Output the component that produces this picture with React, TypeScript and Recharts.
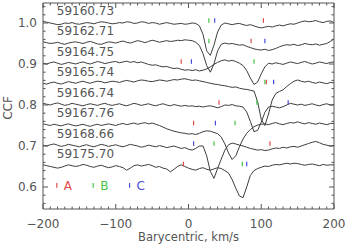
import { ComposedChart, Line, Scatter, XAxis, YAxis } from "recharts"

// velocity grid, km/s
const VELOCITY = [
  -200, -195, -190, -185, -180, -175, -170, -165, -160, -155,
  -150, -145, -140, -135, -130, -125, -120, -115, -110, -105,
  -100, -95, -90, -85, -80, -75, -70, -65, -60, -55,
  -50, -45, -40, -35, -30, -25, -20, -15, -10, -5,
  0, 5, 10, 15, 20, 25, 30, 35, 40, 45,
  50, 55, 60, 65, 70, 75, 80, 85, 90, 95,
  100, 105, 110, 115, 120, 125, 130, 135, 140, 145,
  150, 155, 160, 165, 170, 175, 180, 185, 190, 195,
  200,
]

const DATES = ["59160.73", "59162.71", "59164.75", "59165.74", "59166.74", "59167.76", "59168.66", "59175.70"]
const BASELINES = [1.0, 0.95, 0.9, 0.85, 0.8, 0.75, 0.7, 0.65]

const CCF_59160 = [
  1.004, 1.002, 1.0, 0.998, 0.996, 0.997, 1.0, 0.999, 1.001, 0.998,
  0.997, 0.999, 1.001, 1.0, 0.998, 1.001, 1.003, 1.002, 1.0, 0.998,
  0.999, 1.001, 1.0, 1.003, 1.002, 0.999, 1.0, 1.003, 1.002, 0.999,
  1.001, 1.0, 0.997, 0.999, 1.001, 0.999, 0.997, 0.998, 0.999, 0.997,
  0.998, 1.0, 0.999, 0.993, 0.972, 0.932, 0.921, 0.946, 0.978, 0.995,
  1.0, 0.998, 0.996, 0.998, 0.999, 0.996, 0.994, 0.996, 0.993, 0.99,
  0.988, 0.99, 0.992, 0.99, 0.993, 0.995, 0.993, 0.996, 0.998, 0.997,
  1.0, 1.003, 1.005, 1.003, 1.004, 1.006, 1.003, 1.001, 1.004, 1.005,
  1.001,
]
const CCF_59162 = [
  0.954, 0.952, 0.95, 0.951, 0.953, 0.95, 0.948, 0.951, 0.953, 0.954,
  0.952, 0.95, 0.953, 0.955, 0.952, 0.949, 0.948, 0.951, 0.954, 0.953,
  0.951, 0.954, 0.956, 0.953, 0.951, 0.954, 0.957, 0.955, 0.952, 0.955,
  0.958, 0.956, 0.953, 0.955, 0.957, 0.955, 0.956, 0.958, 0.957, 0.959,
  0.958, 0.957, 0.953, 0.945, 0.925, 0.896, 0.88, 0.9, 0.932, 0.948,
  0.951, 0.949, 0.95, 0.948, 0.946, 0.947, 0.943, 0.94, 0.937, 0.935,
  0.934, 0.936, 0.933, 0.935, 0.938, 0.942, 0.945, 0.947, 0.946, 0.948,
  0.945, 0.947, 0.95, 0.948, 0.947, 0.949, 0.946, 0.948, 0.95, 0.955,
  0.961,
]
const CCF_59164 = [
  0.902, 0.9, 0.903, 0.905, 0.902, 0.899, 0.901, 0.904, 0.902, 0.9,
  0.903, 0.905, 0.902, 0.9, 0.903, 0.906, 0.904, 0.901, 0.903, 0.905,
  0.906, 0.903, 0.905, 0.907, 0.904, 0.906, 0.903, 0.905, 0.902, 0.899,
  0.897, 0.898, 0.895, 0.893, 0.894, 0.891, 0.889, 0.89, 0.887, 0.885,
  0.886, 0.884, 0.886, 0.883, 0.885, 0.888, 0.893, 0.899, 0.904, 0.908,
  0.91, 0.907, 0.909, 0.906, 0.902, 0.896, 0.884, 0.866, 0.85, 0.856,
  0.876, 0.893, 0.902, 0.9, 0.903, 0.901, 0.899, 0.902, 0.905, 0.903,
  0.901, 0.904, 0.906, 0.903, 0.9, 0.902, 0.905, 0.903, 0.901, 0.904,
  0.905,
]
const CCF_59165 = [
  0.853, 0.851, 0.854, 0.856, 0.853, 0.851, 0.854, 0.857, 0.855, 0.853,
  0.856, 0.858, 0.855, 0.853, 0.856, 0.858, 0.857, 0.854, 0.856, 0.858,
  0.857, 0.855, 0.858, 0.86, 0.858, 0.856, 0.859, 0.861, 0.86, 0.858,
  0.857, 0.859, 0.861, 0.86, 0.858, 0.86, 0.862, 0.861, 0.863, 0.864,
  0.862, 0.86, 0.861, 0.859, 0.857, 0.855, 0.853, 0.851, 0.85, 0.848,
  0.847, 0.845, 0.843, 0.844, 0.841, 0.839, 0.838, 0.836, 0.834, 0.808,
  0.765, 0.75, 0.778, 0.812, 0.828, 0.833, 0.837, 0.845, 0.852, 0.858,
  0.861, 0.858, 0.856, 0.858, 0.855, 0.853, 0.856, 0.854, 0.852, 0.855,
  0.854,
]
const CCF_59166 = [
  0.804, 0.802, 0.8, 0.803, 0.805, 0.802, 0.799, 0.801, 0.804, 0.802,
  0.8, 0.798, 0.801, 0.803, 0.801, 0.799, 0.802, 0.804, 0.801, 0.799,
  0.801, 0.803, 0.8, 0.798, 0.801, 0.804, 0.802, 0.799, 0.801, 0.803,
  0.8, 0.798, 0.801, 0.803, 0.8, 0.798, 0.801, 0.799, 0.797, 0.799,
  0.797, 0.798, 0.796, 0.797, 0.795, 0.797, 0.798, 0.796, 0.793, 0.796,
  0.8, 0.799, 0.801, 0.798, 0.797, 0.795, 0.783, 0.76, 0.735, 0.738,
  0.758, 0.782, 0.795, 0.797, 0.795, 0.793, 0.796, 0.8, 0.804, 0.802,
  0.8, 0.802, 0.799, 0.801, 0.803, 0.8, 0.798, 0.801, 0.803, 0.8,
  0.801,
]
const CCF_59167 = [
  0.754, 0.752, 0.75, 0.753, 0.751, 0.749, 0.752, 0.754, 0.751, 0.749,
  0.751, 0.753, 0.75, 0.748, 0.751, 0.753, 0.75, 0.752, 0.754, 0.752,
  0.75, 0.753, 0.755, 0.752, 0.754, 0.756, 0.753, 0.755, 0.757, 0.754,
  0.756, 0.753, 0.75, 0.746, 0.742, 0.739, 0.736, 0.734, 0.732, 0.731,
  0.729, 0.73, 0.728, 0.731, 0.735, 0.737, 0.736, 0.733, 0.73, 0.722,
  0.705, 0.683, 0.667, 0.676, 0.698, 0.717, 0.731, 0.74, 0.747, 0.751,
  0.753, 0.754, 0.752, 0.755, 0.757, 0.754, 0.752, 0.755, 0.757, 0.756,
  0.759, 0.756, 0.754, 0.757, 0.755, 0.753, 0.756, 0.754, 0.752, 0.755,
  0.755,
]
const CCF_59168 = [
  0.702, 0.7, 0.703, 0.705, 0.702, 0.699, 0.701, 0.704, 0.702, 0.7,
  0.698, 0.701, 0.703, 0.7, 0.698, 0.701, 0.704, 0.702, 0.699, 0.701,
  0.703, 0.7, 0.698, 0.701, 0.704, 0.702, 0.7, 0.697, 0.699, 0.702,
  0.7, 0.698, 0.701, 0.699, 0.696, 0.698, 0.7, 0.697, 0.694, 0.696,
  0.692, 0.69, 0.694, 0.7, 0.7, 0.676, 0.638, 0.621, 0.645, 0.668,
  0.69, 0.703, 0.707, 0.705, 0.702, 0.7, 0.697, 0.694, 0.692, 0.69,
  0.691, 0.689, 0.69, 0.693, 0.695, 0.694, 0.697, 0.695, 0.698, 0.699,
  0.697, 0.7, 0.703, 0.706, 0.709, 0.711, 0.708, 0.704, 0.702, 0.7,
  0.701,
]
const CCF_59175 = [
  0.654, 0.652, 0.65, 0.648, 0.646, 0.648, 0.651, 0.654, 0.652, 0.65,
  0.652, 0.655, 0.653, 0.65, 0.648, 0.651, 0.653, 0.65, 0.647, 0.649,
  0.652, 0.65, 0.647, 0.641, 0.646, 0.652, 0.654, 0.651, 0.653, 0.655,
  0.652, 0.648, 0.65, 0.646, 0.644, 0.637, 0.643, 0.65, 0.654, 0.65,
  0.646, 0.643, 0.641, 0.645, 0.647, 0.643, 0.641, 0.644, 0.647, 0.645,
  0.64, 0.634, 0.618, 0.597, 0.578, 0.574, 0.6, 0.628, 0.64, 0.645,
  0.648, 0.651, 0.65, 0.653, 0.655, 0.654, 0.656, 0.658, 0.656, 0.658,
  0.657, 0.655, 0.653, 0.655, 0.656, 0.654, 0.652, 0.655, 0.653, 0.654,
  0.654,
]
const SPECTRA = [CCF_59160, CCF_59162, CCF_59164, CCF_59165, CCF_59166, CCF_59167, CCF_59168, CCF_59175]

// component velocities marked above each profile
const MARK_A = [103, 86, -10, 107, 42, 7, 112, -7]
const MARK_B = [28, 28, 90, 105, 94, 64, 35, 74]
const MARK_C = [36, 105, 4, 117, 137, 37, 7, 80]

const LEGEND_KEYS = ["A", "B", "C"]
const LEGEND_X = [-181, -131, -81]

const X_TICKS = [
  -200, -190, -180, -170, -160, -150, -140, -130, -120, -110,
  -100, -90, -80, -70, -60, -50, -40, -30, -20, -10,
  0, 10, 20, 30, 40, 50, 60, 70, 80, 90,
  100, 110, 120, 130, 140, 150, 160, 170, 180, 190, 200,
]
const X_LABELED = [-200, -100, 0, 100, 200]
const Y_TICKS = [
  0.56, 0.58, 0.6, 0.62, 0.64, 0.66, 0.68, 0.7, 0.72, 0.74, 0.76, 0.78,
  0.8, 0.82, 0.84, 0.86, 0.88, 0.9, 0.92, 0.94, 0.96, 0.98, 1.0, 1.02, 1.04,
]
const Y_LABELED = [0.6, 0.7, 0.8, 0.9, 1.0]

const X_DOMAIN: [number, number] = [-200, 200]
const Y_DOMAIN: [number, number] = [0.5463, 1.0488]

const INK = "#555"
const FRAME = "#555"
const CURVE = "#3e3e3e"
const COLORS = ["#dd4a4a", "#45c445", "#4a4ad8"]
const FONT = "'DejaVu Sans', sans-serif"

const MARK_OFFSET = 0.006
const LABEL_OFFSET = 0.031
const LABEL_X = -181
const LEGEND_Y = 0.604

const isMajor = (v: number, list: number[]) => list.some((m) => Math.abs(m - v) < 1e-6)
const fmtX = (v: number) => (v < 0 ? `\u2212${Math.abs(v)}` : `${v}`)

// ticks point inward, IDL style; axis boxes are 1px so the tick origin sits on the frame
function BottomTick({ x, y, payload }: any) {
  const major = isMajor(payload.value, X_LABELED)
  return (
    <g>
      <line x1={x} x2={x} y1={y} y2={y - (major ? 5 : 2.5)} stroke={FRAME} />
      {major && (
        <text x={x} y={y + 18.5} textAnchor="middle" fill={INK} fontSize={12} fontFamily={FONT}>
          {fmtX(payload.value)}
        </text>
      )}
    </g>
  )
}

function TopTick({ x, y, payload }: any) {
  const major = isMajor(payload.value, X_LABELED)
  return <line x1={x} x2={x} y1={y} y2={y + (major ? 5 : 2.5)} stroke={FRAME} />
}

function LeftTick({ x, y, payload }: any) {
  const major = isMajor(payload.value, Y_LABELED)
  return (
    <g>
      <line x1={x} x2={x + (major ? 5 : 2.5)} y1={y} y2={y} stroke={FRAME} />
      {major && (
        <text x={x - 6} y={y} dy="0.36em" textAnchor="end" fill={INK} fontSize={12} fontFamily={FONT}>
          {payload.value.toFixed(1)}
        </text>
      )}
    </g>
  )
}

function RightTick({ x, y, payload }: any) {
  const major = isMajor(payload.value, Y_LABELED)
  return <line x1={x} x2={x - (major ? 5 : 2.5)} y1={y} y2={y} stroke={FRAME} />
}

const curves = SPECTRA.map((vals) => vals.map((y, i) => ({ x: VELOCITY[i], y })))

const marks = BASELINES.flatMap((b, i) =>
  [MARK_A[i], MARK_B[i], MARK_C[i]].map((v, k) => ({ x: v, y: b + MARK_OFFSET, color: COLORS[k] }))
)

const labels = DATES.map((d, i) => ({ x: LABEL_X, y: BASELINES[i] + LABEL_OFFSET, text: d }))

const legend = LEGEND_KEYS.map((k, i) => ({ x: LEGEND_X[i], y: LEGEND_Y, text: k, color: COLORS[i] }))

export default function App() {
  return (
    <div style={{ position: "absolute", left: 0, top: 0, background: "#fff", fontFamily: FONT }}>
      <ComposedChart width={346} height={245} margin={{ top: 2, right: 11, bottom: 35, left: 42 }}>
        <XAxis
          xAxisId={0}
          type="number"
          dataKey="x"
          domain={X_DOMAIN}
          allowDataOverflow
          ticks={X_TICKS}
          interval={0}
          height={1}
          tickSize={0}
          tickMargin={0}
          tickLine={false}
          axisLine={{ stroke: FRAME }}
          tick={BottomTick}
          label={{
            content: ({ viewBox }: any) => (
              <text
                x={viewBox.x + viewBox.width / 2}
                y={viewBox.y + 32}
                textAnchor="middle"
                fill={INK}
                fontSize={11.5}
                fontFamily={FONT}
              >
                Barycentric, km/s
              </text>
            ),
          }}
        />
        <XAxis
          xAxisId="top"
          orientation="top"
          type="number"
          dataKey="x"
          domain={X_DOMAIN}
          allowDataOverflow
          ticks={X_TICKS}
          interval={0}
          height={1}
          tickSize={0}
          tickMargin={0}
          tickLine={false}
          axisLine={{ stroke: FRAME }}
          tick={TopTick}
        />
        <YAxis
          yAxisId={0}
          type="number"
          dataKey="y"
          domain={Y_DOMAIN}
          allowDataOverflow
          ticks={Y_TICKS}
          interval={0}
          width={1}
          tickSize={0}
          tickMargin={0}
          tickLine={false}
          axisLine={{ stroke: FRAME }}
          tick={LeftTick}
          label={{
            content: ({ viewBox }: any) => {
              const cx = viewBox.x + viewBox.width - 35
              const cy = viewBox.y + viewBox.height / 2 + 2
              return (
                <text
                  x={cx}
                  y={cy}
                  dy="0.36em"
                  transform={`rotate(-90 ${cx} ${cy})`}
                  textAnchor="middle"
                  fill={INK}
                  fontSize={12}
                  fontFamily={FONT}
                >
                  CCF
                </text>
              )
            },
          }}
        />
        <YAxis
          yAxisId="right"
          orientation="right"
          type="number"
          dataKey="y"
          domain={Y_DOMAIN}
          allowDataOverflow
          ticks={Y_TICKS}
          interval={0}
          width={1}
          tickSize={0}
          tickMargin={0}
          tickLine={false}
          axisLine={{ stroke: FRAME }}
          tick={RightTick}
        />

        {curves.map((data, i) => (
          <Line
            key={DATES[i]}
            data={data}
            dataKey="y"
            type="linear"
            stroke={CURVE}
            strokeWidth={1}
            dot={false}
            activeDot={false}
            isAnimationActive={false}
          />
        ))}

        <Scatter
          data={marks}
          isAnimationActive={false}
          shape={(p: any) => (
            <line x1={p.cx} x2={p.cx} y1={p.cy - 2.3} y2={p.cy + 2.3} stroke={p.payload.color} strokeWidth={1.2} />
          )}
        />
        <Scatter
          data={labels}
          isAnimationActive={false}
          shape={(p: any) => (
            <text x={p.cx} y={p.cy} dy="0.36em" fill={INK} fontSize={12} fontFamily={FONT}>
              {p.payload.text}
            </text>
          )}
        />
        <Scatter
          data={legend}
          xAxisId="top"
          yAxisId="right"
          isAnimationActive={false}
          shape={(p: any) => (
            <g>
              <line x1={p.cx} x2={p.cx} y1={p.cy - 2.3} y2={p.cy + 2.3} stroke={p.payload.color} strokeWidth={1.2} />
              <text x={p.cx + 7} y={p.cy} dy="0.36em" fill={p.payload.color} fontSize={12} fontFamily={FONT}>
                {p.payload.text}
              </text>
            </g>
          )}
        />
      </ComposedChart>
    </div>
  )
}
